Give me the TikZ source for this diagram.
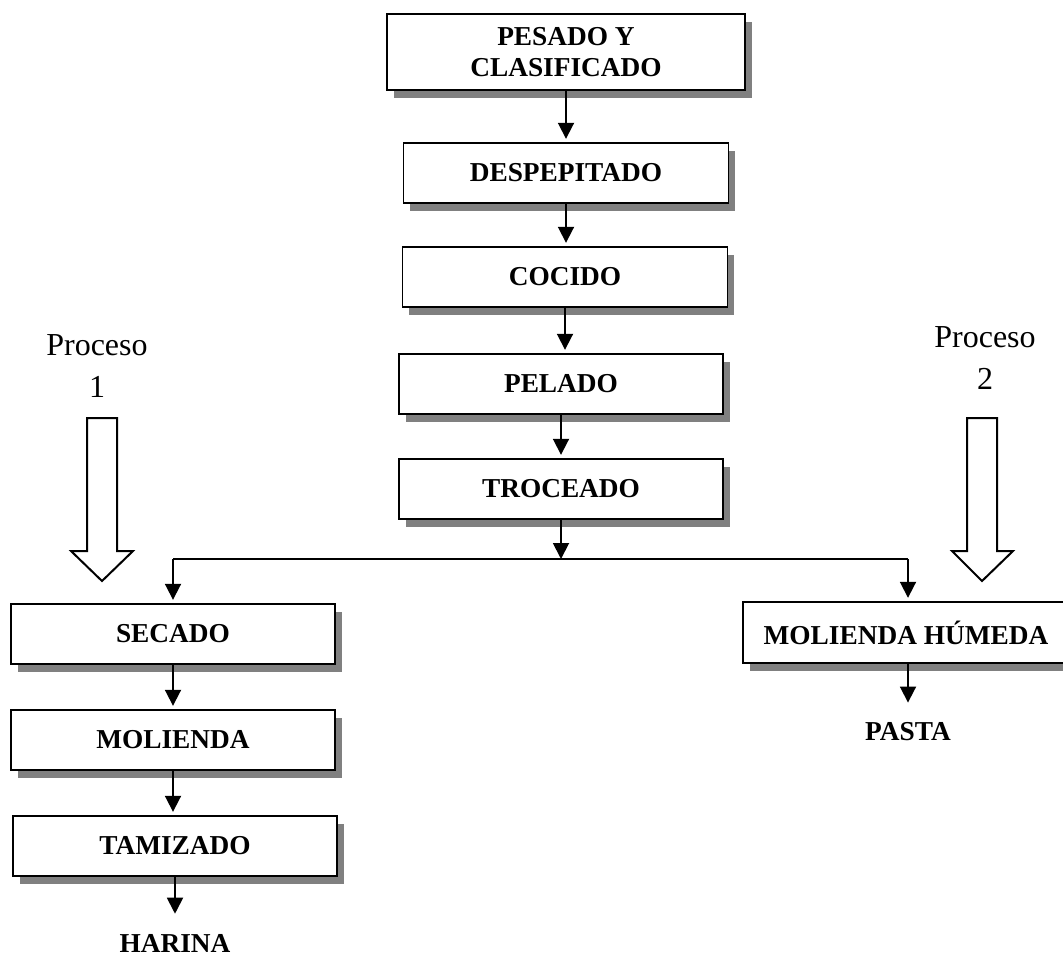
\documentclass[tikz,border=0pt]{standalone}
\usepackage{fontspec}
\setmainfont{Liberation Serif}
\usetikzlibrary{arrows.meta,shadows}
\definecolor{shadowgray}{HTML}{808080}
\begin{document}
\begin{tikzpicture}[x=0.75pt,y=-0.75pt,
  stepbox/.style={draw, line width=1.3pt, fill=white,
    font=\fontsize{20.5}{23}\selectfont\bfseries, align=center, inner sep=0pt,
    minimum width=243pt, minimum height=45pt,
    drop shadow={shadow xshift=5pt,shadow yshift=-6pt,fill=shadowgray,opacity=1}},
  outlabel/.style={font=\fontsize{20.5}{23}\selectfont\bfseries, inner sep=0pt},
  arr/.style={line width=1.4pt, -{Triangle[length=12pt,width=12pt]}, shorten >=2.5pt},
  tolabel/.style={arr, shorten >=15pt},
  flowline/.style={line width=1.4pt},
  procarrow/.style={line width=1.5pt, fill=white, line join=miter},
  proclabel/.style={font=\fontsize{24}{31.5}\selectfont, align=center, inner sep=0pt}
]
\useasboundingbox (0,0) rectangle (1063,958);

% main column
\node[stepbox, minimum width=268.5pt, minimum height=57pt] (pesado) at (566,52) {PESADO Y\\CLASIFICADO};
\node[stepbox, minimum width=243.75pt] (despep) at (566,173) {DESPEPITADO};
\node[stepbox, minimum width=243.75pt] (cocido) at (565,277) {COCIDO};
\node[stepbox] (pelado) at (561,384) {PELADO};
\node[stepbox] (troceado) at (561,489) {TROCEADO};

% left branch
\node[stepbox] (secado) at (173,634) {SECADO};
\node[stepbox] (molienda) at (173,740) {MOLIENDA};
\node[stepbox] (tamizado) at (175,846) {TAMIZADO};
\node[outlabel] (harina) at (175,943) {HARINA};

% right branch
\node[stepbox, minimum width=244.5pt, minimum height=45.75pt] (humeda) at (906,632.5) {MOLIENDA HÚMEDA};
\node[outlabel] (pasta) at (908,732) {PASTA};

% process labels and hollow arrows
\node[proclabel] (proc1) at (97,366) {Proceso\\1};
\node[proclabel] (proc2) at (985,358) {Proceso\\2};
\draw[procarrow] (87,418) -- (117,418) -- (117,551) -- (133,551) -- (102,581) -- (71,551) -- (87,551) -- cycle;
\draw[procarrow] (967,418) -- (997,418) -- (997,551) -- (1013,551) -- (982,581) -- (952,551) -- (967,551) -- cycle;

% connectors
\coordinate (split) at (561,559);
\coordinate (sl) at (173,559);
\coordinate (sr) at (908,559);

\draw[arr] (pesado.south) -- (despep.north);
\draw[arr] (despep.south) -- (despep.south |- cocido.north);
\draw[arr] (cocido.south) -- (cocido.south |- pelado.north);
\draw[arr] (pelado.south) -- (troceado.north);
\draw[arr, shorten >=0pt] (troceado.south) -- (split);
\draw[flowline] (sl) -- (sr);
\draw[arr] (sl) -- (sl |- secado.north);
\draw[arr] (sr) -- (sr |- humeda.north);

\draw[arr] (secado.south) -- (molienda.north);
\draw[arr] (molienda.south) -- (molienda.south |- tamizado.north);
\draw[tolabel] (tamizado.south) -- (harina.north);
\draw[tolabel] (pasta.north |- humeda.south) -- (pasta.north);
\end{tikzpicture}
\end{document}
